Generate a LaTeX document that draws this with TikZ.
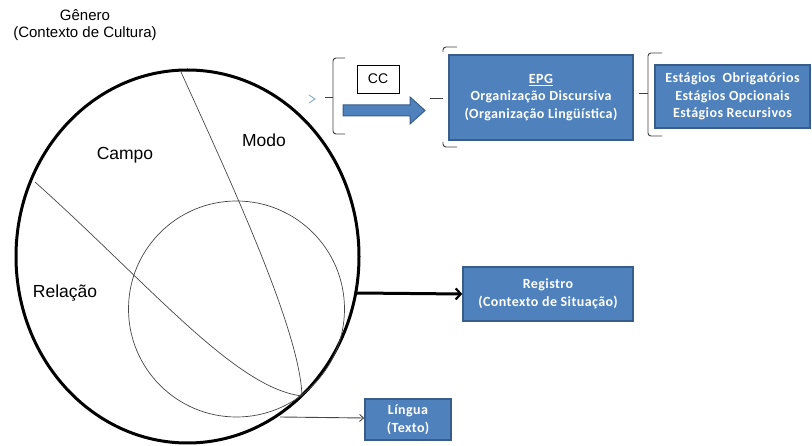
\documentclass[tikz,border=0pt]{standalone}
\usepackage{fontspec}
\setmainfont{Liberation Sans}
\newfontfamily\boxfont[LetterSpace=3]{Carlito}
\usetikzlibrary{arrows.meta}
\definecolor{boxfill}{RGB}{79,129,189}
\definecolor{boxline}{RGB}{56,93,138}
\definecolor{thinline}{RGB}{70,70,70}
\begin{document}
\begin{tikzpicture}[x=1pt,y=-1pt,
  bluebox/.style={draw=boxline, line width=1.6pt, fill=boxfill, text=white,
    align=center, inner sep=0pt,
    font=\boxfont\bfseries\fontsize{14}{17.5}\selectfont},
  label/.style={font=\fontsize{17.5}{20}\selectfont, inner sep=0pt},
  bracket/.style={draw=black!75, line width=0.9pt, rounded corners=3pt},
  divider/.style={draw=thinline, line width=0.7pt}]
\useasboundingbox (0,0) rectangle (812,446);

% title of the outer ellipse
\node[align=center, inner sep=0pt, font=\fontsize{15}{16.5}\selectfont] (genero) at (85,25)
  {Gênero\\(Contexto de Cultura)};

% outer ellipse (genre) and inner circle (language)
\draw[line width=3pt] (187.5,256.5) ellipse [x radius=171.5, y radius=186.5];
\draw[divider] (236.5,309) circle [radius=108];

% dividing lines between the three variables
\draw[divider] (181,72) .. controls (230,180) and (300,330) .. (302,396);
\draw[divider] (35,182) .. controls (150,285) and (235,388) .. (302,396);

\node[label] (campo) at (125,155) {Campo};
\node[label] (modo) at (264,140) {Modo};
\node[label] (relacao) at (65,293) {Relação};

% boxes on the right
\node[bluebox, minimum width=184pt, minimum height=85pt] (epg) at (541,97.5)
  {\underline{EPG}\\Organização Discursiva\\(Organização Lingüística)};
\node[bluebox, minimum width=155pt, minimum height=63pt] (estagios) at (732.5,96.5)
  {Estágios~ Obrigatórios\\Estágios Opcionais\\Estágios Recursivos};
\node[bluebox, minimum width=170pt, minimum height=54pt] (registro) at (548,294)
  {Registro\\(Contexto de Situação)};
\node[bluebox, minimum width=86pt, minimum height=41pt] (lingua) at (408,419.5)
  {Língua\\(Texto)};
\node[draw, line width=0.9pt, minimum width=42pt, minimum height=28pt, inner sep=0pt,
  font=\fontsize{14}{16}\selectfont] (cc) at (378,79) {CC};

% wide blue arrow under CC
\draw[boxline, line width=1pt, fill=boxfill]
  (343,105) -- (410,105) -- (410,97) -- (425,110.5) -- (410,124) -- (410,116) -- (343,116) -- cycle;

% brackets
\draw[bracket] (345,58) -- (333,58) -- (333,134) -- (345,134);
\draw[bracket] (325,97) -- (333,97);
\draw[bracket] (457,47) -- (443,47) -- (443,52);
\draw[bracket] (457,147) -- (443,147) -- (443,142);
\draw[bracket] (430,98) -- (443,98);
\draw[bracket] (662,53) -- (648,53) -- (648,136) -- (662,136);
\draw[bracket] (639,93) -- (648,93);
\draw[boxfill!70, line width=0.9pt] (309,95) -- (315,99) -- (309,103);

% connectors
\coordinate (gEast) at (357,293);
\coordinate (circBottom) at (280,417);
\draw[line width=3pt, -{Straight Barb[length=5pt,width=11pt,line width=2.2pt]}] (gEast) -- (registro.west);
\draw[thinline, line width=0.9pt, -{Straight Barb[length=4pt,width=7pt]}] (circBottom) -- (lingua.west |- 0,418);
\end{tikzpicture}
\end{document}
